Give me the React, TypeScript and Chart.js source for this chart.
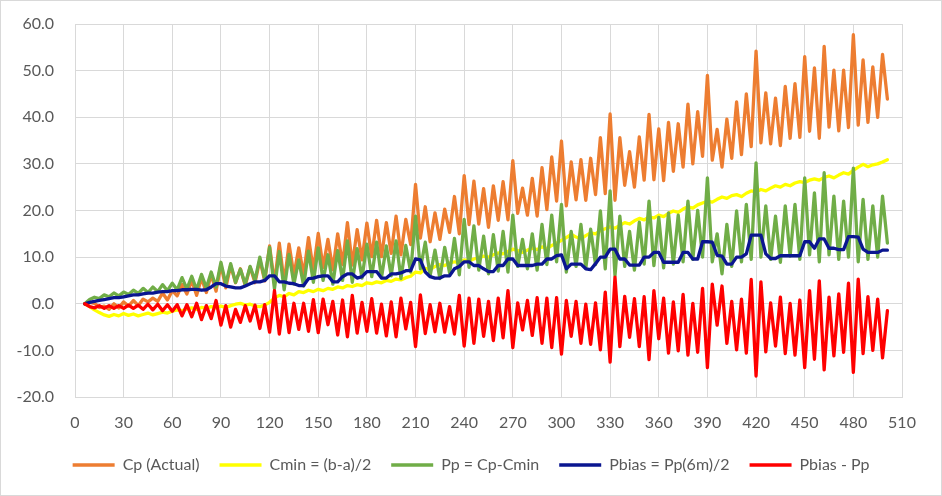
import React, { useEffect, useRef } from "react";
import { Chart, registerables } from "chart.js";

Chart.register(...registerables);

// x positions (days)
const X = [
  6, 9, 12, 15, 18, 21, 24, 27, 30, 33,
  36, 39, 42, 45, 48, 51, 54, 57, 60, 63,
  66, 69, 72, 75, 78, 81, 84, 87, 90, 93,
  96, 99, 102, 105, 108, 111, 114, 117, 120, 123,
  126, 129, 132, 135, 138, 141, 144, 147, 150, 153,
  156, 159, 162, 165, 168, 171, 174, 177, 180, 183,
  186, 189, 192, 195, 198, 201, 204, 207, 210, 213,
  216, 219, 222, 225, 228, 231, 234, 237, 240, 243,
  246, 249, 252, 255, 258, 261, 264, 267, 270, 273,
  276, 279, 282, 285, 288, 291, 294, 297, 300, 303,
  306, 309, 312, 315, 318, 321, 324, 327, 330, 333,
  336, 339, 342, 345, 348, 351, 354, 357, 360, 363,
  366, 369, 372, 375, 378, 381, 384, 387, 390, 393,
  396, 399, 402, 405, 408, 411, 414, 417, 420, 423,
  426, 429, 432, 435, 438, 441, 444, 447, 450, 453,
  456, 459, 462, 465, 468, 471, 474, 477, 480, 483,
  486, 489, 492, 495, 498, 501,
];

const CP_ACTUAL = [
  0.0, 0.3, 0.1, -0.8, -0.5, -1.2, 0.0, -0.9, 0.4, -0.5,
  0.7, -0.4, 1.0, 0.4, 1.2, 0.5, 2.3, 0.8, 2.8, 1.7,
  4.1, 2.1, 5.0, 1.8, 5.5, 2.4, 6.2, 2.7, 8.4, 3.4,
  8.2, 4.5, 7.5, 3.9, 7.9, 4.5, 9.4, 4.9, 12.4, 4.4,
  13.0, 4.5, 12.8, 6.1, 12.0, 6.2, 14.2, 7.2, 15.1, 7.8,
  13.8, 7.3, 15.0, 8.4, 17.4, 8.3, 15.9, 9.4, 17.3, 10.1,
  17.9, 10.1, 17.4, 10.8, 18.8, 10.5, 18.1, 12.7, 25.6, 14.1,
  20.8, 13.3, 19.5, 13.8, 20.3, 15.3, 23.0, 15.0, 27.5, 17.0,
  26.3, 17.1, 24.7, 16.4, 25.3, 17.9, 26.2, 18.0, 30.7, 19.4,
  24.8, 19.0, 26.9, 18.8, 29.2, 20.2, 31.5, 22.0, 34.9, 21.0,
  30.4, 22.3, 30.9, 22.2, 31.2, 23.4, 35.6, 23.6, 40.7, 22.2,
  35.6, 25.4, 32.6, 25.0, 35.8, 26.5, 40.6, 26.6, 37.5, 26.4,
  38.9, 28.4, 38.6, 29.3, 42.8, 30.0, 41.2, 31.6, 49.0, 30.8,
  37.4, 29.3, 39.6, 31.2, 43.3, 32.0, 45.0, 33.7, 54.2, 34.5,
  45.2, 34.3, 44.1, 33.9, 46.6, 35.5, 47.2, 35.7, 53.0, 37.0,
  50.6, 35.5, 55.2, 37.9, 50.1, 37.1, 50.1, 37.8, 57.7, 38.3,
  52.3, 38.9, 50.8, 40.0, 53.5, 43.9,
];

const CMIN = [
  0.0, -0.6, -1.3, -1.9, -2.4, -2.7, -2.3, -2.6, -2.1, -2.5,
  -2.2, -2.6, -2.3, -2.0, -2.4, -2.1, -1.8, -2.0, -1.6, -1.3,
  -1.5, -1.1, -0.9, -1.2, -0.8, -1.0, -0.6, -0.9, -0.5, -0.8,
  -0.4, -0.1, 0.1, -0.3, -0.1, -0.5, -0.6, -0.3, 0.3, 1.2,
  1.8, 1.5, 2.2, 1.9, 2.6, 2.4, 2.9, 2.6, 3.1, 2.8,
  3.3, 3.1, 3.6, 3.4, 3.9, 3.7, 4.1, 3.9, 4.5, 4.3,
  4.7, 4.5, 5.0, 4.8, 5.3, 5.1, 5.6, 5.9, 6.8, 6.6,
  7.6, 7.3, 8.0, 8.4, 8.2, 8.7, 9.0, 8.8, 9.4, 9.2,
  9.6, 9.9, 10.2, 10.0, 10.5, 10.9, 10.7, 11.2, 11.7, 11.4,
  11.0, 11.5, 11.9, 11.6, 12.2, 11.8, 12.5, 13.0, 13.6, 14.2,
  14.9, 14.3, 13.9, 14.6, 15.2, 15.0, 15.7, 16.1, 16.5, 16.2,
  16.8, 17.4, 17.1, 17.8, 18.3, 18.0, 18.6, 18.4, 19.0, 18.7,
  19.4, 19.9, 19.6, 20.3, 20.8, 20.5, 21.2, 21.6, 22.0, 21.8,
  22.4, 22.9, 22.6, 23.2, 23.4, 23.0, 23.7, 24.2, 24.0, 24.5,
  24.2, 24.8, 25.3, 25.0, 25.6, 25.3, 25.9, 26.2, 26.0, 26.5,
  26.8, 26.5, 27.1, 27.4, 27.0, 27.6, 28.1, 27.8, 28.6, 29.3,
  29.9, 29.4, 29.8, 30.0, 30.4, 30.9,
];

const PP = [
  0.0, 0.9, 1.4, 1.1, 1.9, 1.5, 2.3, 1.7, 2.5, 2.0,
  2.9, 2.2, 3.3, 2.4, 3.6, 2.6, 4.1, 2.8, 4.4, 3.0,
  5.6, 3.2, 5.9, 3.0, 6.3, 3.4, 6.8, 3.6, 8.9, 4.2,
  8.6, 4.6, 7.4, 4.2, 8.0, 5.0, 10.0, 5.2, 12.1, 3.2,
  11.2, 3.0, 10.6, 4.2, 9.4, 3.8, 11.3, 4.6, 12.0, 5.0,
  10.5, 4.2, 11.4, 5.0, 13.5, 4.6, 11.8, 5.5, 12.8, 5.8,
  13.2, 5.6, 12.4, 6.0, 13.5, 5.4, 12.5, 6.8, 18.8, 7.5,
  13.2, 6.0, 11.5, 5.4, 12.1, 6.6, 14.0, 6.2, 18.1, 7.8,
  16.7, 7.2, 14.5, 6.4, 14.8, 7.0, 15.5, 6.8, 19.0, 8.0,
  13.8, 7.5, 15.0, 7.2, 17.0, 8.4, 19.0, 9.0, 21.3, 6.8,
  15.5, 8.0, 17.0, 7.6, 16.0, 8.4, 19.9, 7.5, 24.2, 6.0,
  18.8, 8.0, 15.5, 7.2, 17.5, 8.5, 22.0, 8.2, 18.5, 7.7,
  19.5, 8.5, 19.0, 9.0, 22.0, 9.5, 20.0, 10.0, 27.0, 9.0,
  15.0, 6.4, 17.0, 8.0, 19.9, 9.0, 21.3, 9.5, 30.2, 10.0,
  21.0, 9.5, 18.8, 8.9, 21.0, 10.2, 21.3, 9.5, 27.0, 10.5,
  23.8, 9.0, 28.1, 10.5, 23.1, 9.5, 22.0, 10.0, 29.1, 9.0,
  22.4, 9.5, 21.0, 10.0, 23.1, 13.0,
];

const PBIAS = [
  0.0, 0.3, 0.5, 0.7, 0.9, 1.1, 1.3, 1.3, 1.5, 1.7,
  1.9, 1.9, 2.1, 2.3, 2.3, 2.5, 2.6, 2.6, 2.8, 2.8,
  3.0, 3.0, 3.1, 3.1, 2.9, 3.0, 3.6, 4.3, 4.3, 3.8,
  3.6, 3.4, 3.4, 3.8, 4.3, 4.7, 4.7, 5.0, 6.0, 6.0,
  4.7, 4.7, 4.4, 4.3, 3.9, 3.9, 5.4, 5.5, 5.8, 6.0,
  6.0, 4.7, 4.7, 5.8, 6.4, 6.4, 5.5, 5.8, 6.9, 6.9,
  6.9, 5.5, 5.5, 6.4, 6.4, 6.6, 7.1, 7.1, 9.6, 9.4,
  6.8, 5.8, 5.5, 5.5, 6.0, 6.0, 7.5, 8.0, 9.0, 9.0,
  8.2, 8.2, 7.5, 6.9, 6.9, 8.2, 8.2, 9.6, 9.6, 8.2,
  8.2, 8.2, 8.2, 8.5, 8.5, 9.6, 9.6, 10.3, 10.5, 7.5,
  8.5, 8.5, 8.5, 7.5, 7.3, 8.6, 10.0, 10.0, 11.7, 11.7,
  9.6, 9.6, 8.3, 8.3, 8.3, 10.0, 10.0, 11.0, 11.0, 8.9,
  8.9, 8.9, 8.9, 11.0, 11.0, 9.6, 9.6, 13.3, 13.3, 13.2,
  10.4, 10.2, 8.5, 8.5, 10.0, 10.0, 10.7, 14.7, 14.7, 14.7,
  10.7, 9.7, 9.7, 10.3, 10.3, 10.3, 10.3, 10.3, 13.3, 13.3,
  11.9, 13.9, 13.9, 11.9, 11.9, 11.6, 11.6, 14.4, 14.4, 14.3,
  11.7, 11.0, 11.0, 11.0, 11.5, 11.5,
];

const PBIAS_MINUS_PP = [
  0.0, -0.6, -0.9, -0.4, -1.0, -0.4, -1.0, -0.4, -1.0, -0.3,
  -1.0, -0.3, -1.2, -0.1, -1.3, -0.1, -1.5, -0.2, -1.6, -0.2,
  -2.6, -0.2, -2.8, 0.1, -3.4, -0.4, -3.2, 0.7, -4.6, -0.4,
  -5.0, -1.2, -4.0, -0.4, -3.7, -0.3, -5.3, -0.2, -6.1, 2.8,
  -6.5, 1.7, -6.2, 0.1, -5.5, 0.1, -5.9, 0.9, -6.2, 1.0,
  -4.5, 0.5, -6.7, 0.8, -7.1, 1.8, -6.3, 0.3, -5.9, 1.1,
  -6.3, -0.1, -6.9, 0.4, -7.1, 1.2, -5.4, 0.3, -9.2, 1.9,
  -6.4, -0.2, -6.0, 0.1, -6.1, -0.6, -6.5, 1.8, -9.1, 1.2,
  -8.5, 1.0, -7.0, 0.5, -7.9, 1.2, -7.3, 2.8, -9.4, 0.2,
  -5.6, 0.7, -6.8, 1.3, -8.5, 1.2, -9.4, 1.3, -10.8, 0.7,
  -7.0, 0.5, -8.5, -0.1, -8.7, 0.2, -9.9, 2.5, -12.5, 5.7,
  -9.2, 1.6, -7.2, 1.1, -9.2, 1.5, -12.0, 2.8, -7.5, 1.2,
  -10.6, 0.4, -10.1, 2.0, -11.0, 0.1, -10.4, 3.3, -13.7, 4.2,
  -4.6, 3.8, -8.5, 0.5, -9.9, 1.0, -10.6, 5.2, -15.5, 4.7,
  -10.3, 0.2, -9.1, 1.4, -10.7, 0.1, -11.0, 0.8, -13.7, 2.8,
  -11.9, 4.9, -14.2, 1.4, -11.2, 2.1, -10.4, 4.4, -14.7, 5.3,
  -10.7, 1.5, -10.0, 1.0, -11.6, -1.5,
];

const SERIES_LABELS = [
  "Cp (Actual)",
  "Cmin = (b-a)/2",
  "Pp = Cp-Cmin",
  "Pbias = Pp(6m)/2",
  "Pbias - Pp",
];
const SERIES_COLORS = ["#ED7D31", "#FFFF00", "#70AD47", "#0A1690", "#FF0000"];

const FONT_FAMILY = "Lato, 'Liberation Sans', sans-serif";
const TEXT_COLOR = "#595959";
const GRID_COLOR = "#D9D9D9";

export default function App() {
  const canvasRef = useRef<HTMLCanvasElement>(null);

  useEffect(() => {
    document.body.style.margin = "0";
    const canvas = canvasRef.current;
    if (!canvas) return;

    const seriesValues = [CP_ACTUAL, CMIN, PP, PBIAS, PBIAS_MINUS_PP];
    const datasets = seriesValues.map((vals, k) => ({
      label: SERIES_LABELS[k],
      data: X.map((x, i) => ({ x, y: vals[i] })),
      borderColor: SERIES_COLORS[k],
      backgroundColor: SERIES_COLORS[k],
      borderWidth: 3.3,
      borderJoinStyle: "round" as const,
      borderCapStyle: "round" as const,
      pointRadius: 0,
      pointHoverRadius: 0,
      pointStyle: "line" as const,
      tension: 0,
      fill: false,
      order: 5 - k,
    }));

    const legendShift = {
      id: "legendShift",
      afterLayout(chart: any) {
        const lg = chart.legend;
        if (lg) {
          lg.left = 0;
          lg.right = chart.width;
        }
      },
    };

    const chart = new Chart(canvas, {
      type: "line",
      data: { datasets },
      plugins: [legendShift],
      options: {
        responsive: false,
        maintainAspectRatio: false,
        animation: false,
        events: [],
        layout: {
          autoPadding: false,
          padding: { top: 23, right: 39, left: 0, bottom: 12 },
        },
        plugins: {
          tooltip: { enabled: false },
          legend: {
            position: "bottom",
            labels: {
              usePointStyle: true,
              pointStyleWidth: 42,
              padding: 20,
              color: TEXT_COLOR,
              font: { family: FONT_FAMILY, size: 16 },
              sort: (a: any, b: any) => a.datasetIndex - b.datasetIndex,
            },
          },
        },
        scales: {
          x: {
            type: "linear",
            min: 0,
            max: 510,
            ticks: {
              stepSize: 30,
              color: TEXT_COLOR,
              font: { family: FONT_FAMILY, size: 16 },
              padding: 16,
              maxRotation: 0,
              autoSkip: false,
            },
            grid: { color: GRID_COLOR, lineWidth: 1, drawTicks: false },
            border: { color: GRID_COLOR, width: 1 },
            afterFit: (s: any) => {
              s.height = 40;
              s.paddingLeft = 0;
              s.paddingRight = 0;
            },
          },
          y: {
            min: -20,
            max: 60,
            ticks: {
              stepSize: 10,
              color: TEXT_COLOR,
              font: { family: FONT_FAMILY, size: 16 },
              padding: 21,
              callback: (v: any) => Number(v).toFixed(1),
            },
            grid: { color: GRID_COLOR, lineWidth: 1, drawTicks: false },
            border: { color: GRID_COLOR, width: 1 },
            afterFit: (s: any) => {
              s.width = 74;
              s.paddingTop = 0;
              s.paddingBottom = 0;
            },
          },
        },
      },
    });

    return () => chart.destroy();
  }, []);

  return (
    <div
      style={{
        width: 942,
        height: 496,
        boxSizing: "border-box",
        border: "1px solid #D9D9D9",
        background: "#FFFFFF",
        overflow: "hidden",
      }}
    >
      <canvas ref={canvasRef} width={940} height={494} style={{ display: "block" }} />
    </div>
  );
}
